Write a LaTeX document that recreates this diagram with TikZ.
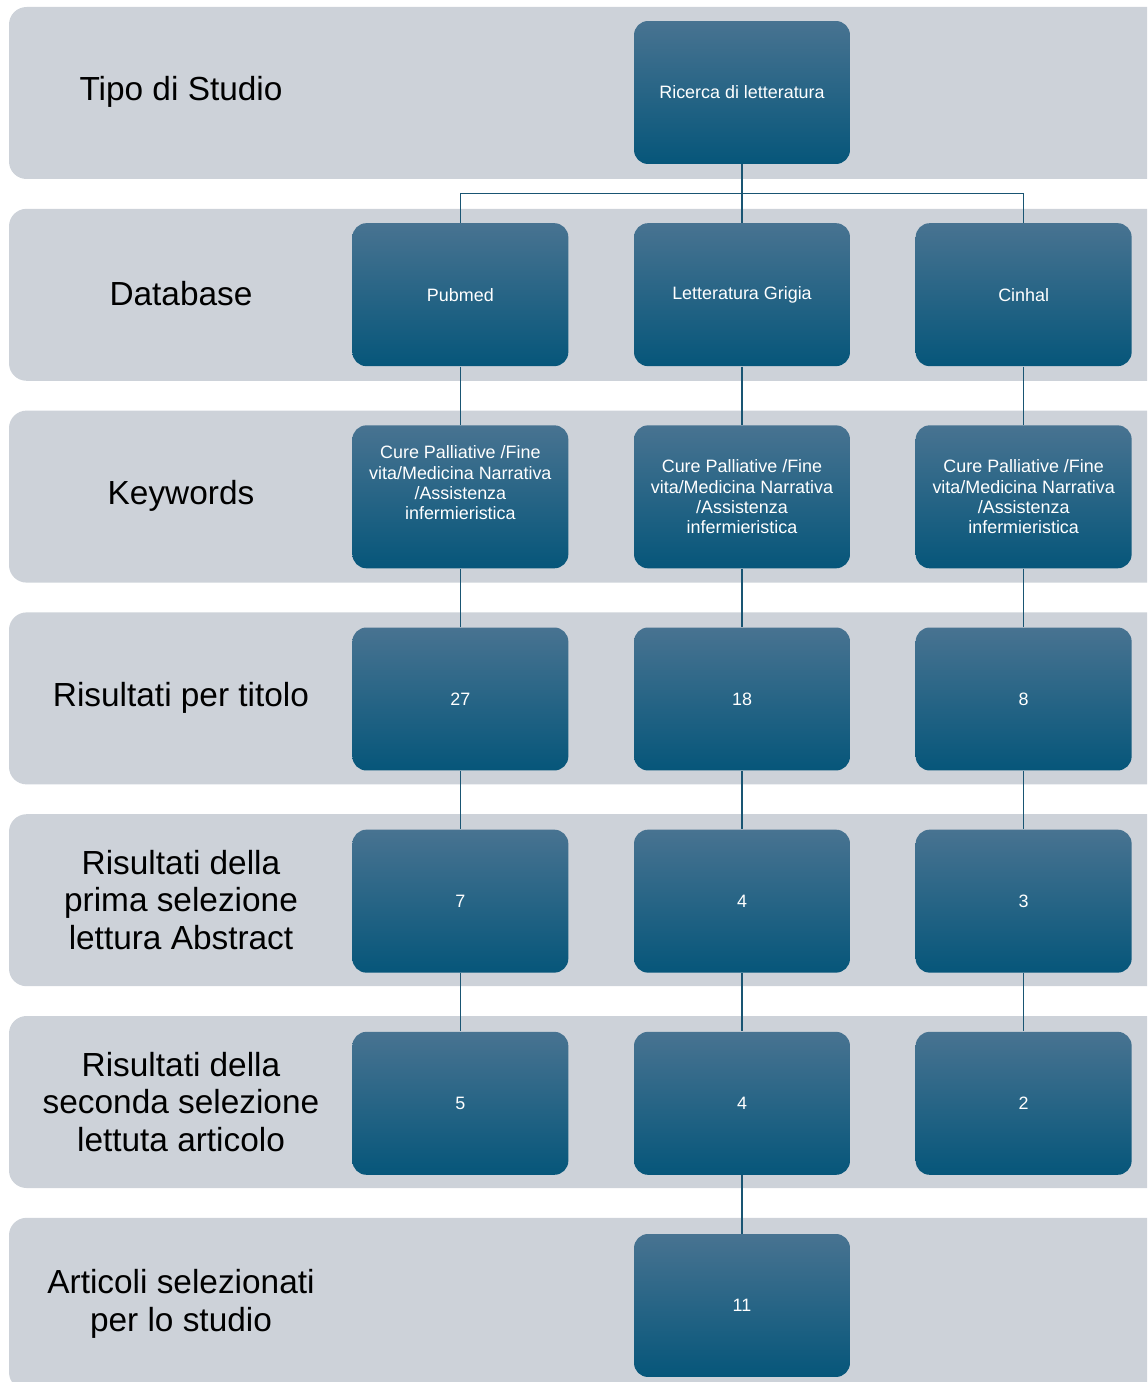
\documentclass[tikz,border=0pt]{standalone}
\usepackage{fontspec}
\setmainfont{Liberation Sans}
\usetikzlibrary{positioning}
\definecolor{bandgray}{RGB}{205,210,217}
\definecolor{boxtop}{RGB}{72,115,145}
\definecolor{boxmid}{RGB}{18,100,138}
\definecolor{boxbot}{RGB}{6,86,122}
\definecolor{linkcol}{RGB}{25,85,115}
\newcommand{\kwtext}{Cure Palliative /Fine\\vita/Medicina Narrativa\\/Assistenza\\infermieristica}

\begin{document}
\begin{tikzpicture}
[x=0.02cm, y=-0.02cm, node distance = 1.17cm and 1.3cm,
band/.style={fill=bandgray, rounded corners=10pt},
rowlabel/.style={font=\fontsize{19}{21.5}\selectfont, align=center},
box/.style={rectangle, rounded corners=8pt, minimum width=4.32cm, minimum height=2.86cm, inner sep=0pt, align=center,
	top color=boxtop, middle color=boxmid, bottom color=boxbot, text=white, font=\fontsize{10.2}{11.6}\selectfont},
link/.style={draw=linkcol, line width=0.8pt}]

\clip (0,0) rectangle (1147,1382);

\foreach \i in {0,...,6}
	\fill[band] (9,7+201.8*\i) rectangle (1180,179+201.8*\i);

\node[rowlabel] (l1) at(181,92) {Tipo di Studio};
\node[rowlabel] (l2) at(181,294) {Database};
\node[rowlabel] (l3) at(181,496) {Keywords};
\node[rowlabel] (l4) at(181,698) {Risultati per titolo};
\node[rowlabel] (l5) at(181,900) {Risultati della\\prima selezione\\lettura Abstract};
\node[rowlabel] (l6) at(181,1102) {Risultati della\\seconda selezione\\lettuta articolo};
\node[rowlabel] (l7) at(181,1304) {Articoli selezionati\\per lo studio};


\node[box] (root) at(742,92.5) {Ricerca di letteratura};

\node[box, below =of root] (db2) {Letteratura Grigia};
\node[box, left =of db2] (db1) {Pubmed};
\node[box, right =of db2] (db3) {Cinhal};

\node[box, below =of db1] (kw1) {\kwtext\\[0.15cm]};
\node[box, below =of db2] (kw2) {\kwtext};
\node[box, below =of db3] (kw3) {\kwtext};

\node[box, below =of kw1] (ti1) {27};
\node[box, below =of kw2] (ti2) {18};
\node[box, below =of kw3] (ti3) {8};

\node[box, below =of ti1] (ab1) {7};
\node[box, below =of ti2] (ab2) {4};
\node[box, below =of ti3] (ab3) {3};

\node[box, below =of ab1] (ar1) {5};
\node[box, below =of ab2] (ar2) {4};
\node[box, below =of ab3] (ar3) {2};

\node[box, below =of ar2] (fin) {11};


\draw[link] (root.south) -- ++(0,29) -| (db1.north);
\draw[link] (root.south) -- ++(0,29) -| (db3.north);
\draw[link] (root) -- (db2);

\foreach \a/\b in {db1/kw1, kw1/ti1, ti1/ab1, ab1/ar1,
	db2/kw2, kw2/ti2, ti2/ab2, ab2/ar2, ar2/fin,
	db3/kw3, kw3/ti3, ti3/ab3, ab3/ar3}
	\draw[link] (\a) -- (\b);
\end{tikzpicture}
\end{document}
